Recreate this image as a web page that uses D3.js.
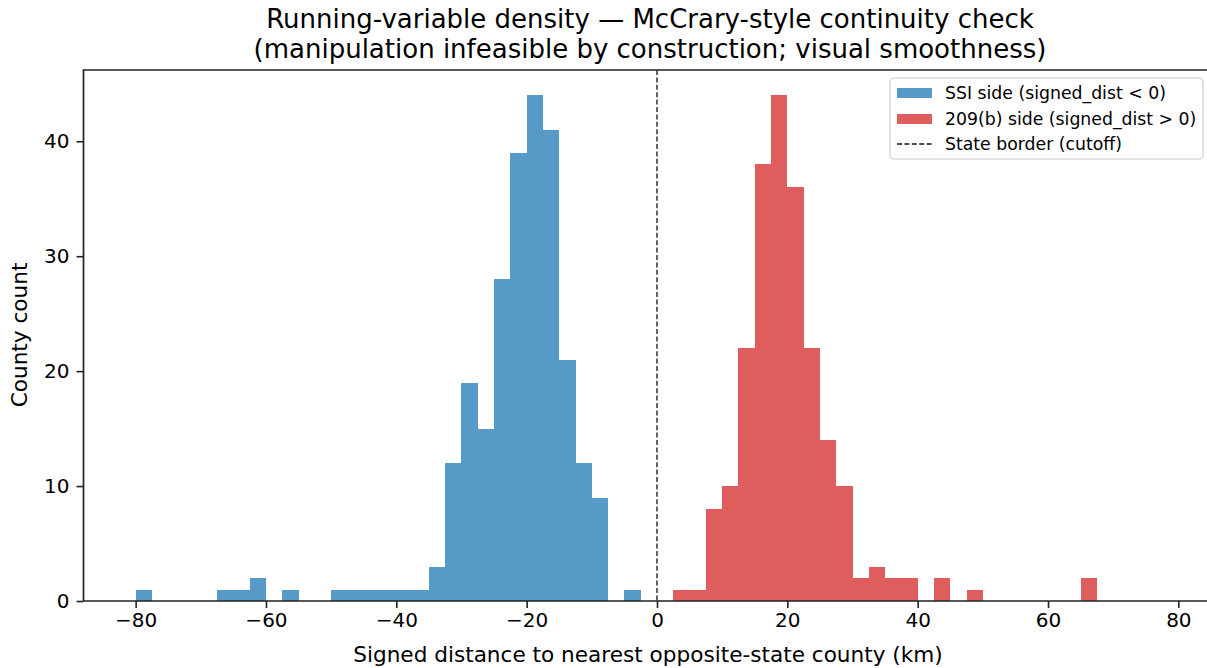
<!DOCTYPE html>
<html>
<head>
<meta charset="utf-8">
<script src="https://cdn.jsdelivr.net/npm/d3@7"></script>
<style>
  body { margin: 0; background: #fff; }
  text { font-family: "DejaVu Sans", sans-serif; fill: #000; }
</style>
</head>
<body>
<div id="target"></div>
<script>
// histogram bins (left edge of each bin, width 2.5 km)
var binWidth = 2.5;
var ssiEdges = [-80, -77.5, -75, -72.5, -70, -67.5, -65, -62.5, -60, -57.5, -55, -52.5,
                -50, -47.5, -45, -42.5, -40, -37.5, -35, -32.5, -30, -27.5, -25, -22.5,
                -20, -17.5, -15, -12.5, -10, -7.5, -5];
var ssiCounts = [1, 0, 0, 0, 0, 1, 1, 2, 0, 1, 0, 0,
                 1, 1, 1, 1, 1, 1, 3, 12, 19, 15, 28, 39,
                 44, 41, 21, 12, 9, 0, 1];
var b209Edges = [2.5, 5, 7.5, 10, 12.5, 15, 17.5, 20, 22.5, 25, 27.5, 30, 32.5,
                 35, 37.5, 40, 42.5, 45, 47.5, 50, 52.5, 55, 57.5, 60, 62.5, 65];
var b209Counts = [1, 1, 8, 10, 22, 38, 44, 36, 22, 14, 10, 2, 3,
                  2, 2, 0, 2, 0, 1, 0, 0, 0, 0, 0, 0, 2];
var xTicks = [-80, -60, -40, -20, 0, 20, 40, 60, 80];
var yTicks = [0, 10, 20, 30, 40];
var legendLabels = ['SSI side (signed_dist < 0)', '209(b) side (signed_dist > 0)', 'State border (cutoff)'];

var W = 1207, H = 668;
var blue = '#5799c7', red = '#e05d5e';

var svg = d3.select('#target').append('svg')
    .attr('width', W)
    .attr('height', H);

var x = d3.scaleLinear().domain([-88, 88]).range([83.5, 1230.5]);
var y = d3.scaleLinear().domain([0, 46.2]).range([601, 70]);

function bars(edges, counts, color) {
  svg.append('g').selectAll('rect')
    .data(edges)
    .join('rect')
    .attr('x', function(d) { return x(d); })
    .attr('width', function(d) { return x(d + binWidth) - x(d); })
    .attr('y', function(d, i) { return y(counts[i]); })
    .attr('height', function(d, i) { return y(0) - y(counts[i]); })
    .attr('fill', color)
    .attr('shape-rendering', 'crispEdges');
}
bars(ssiEdges, ssiCounts, blue);
bars(b209Edges, b209Counts, red);

// cutoff line
svg.append('line')
  .attr('x1', x(0)).attr('x2', x(0))
  .attr('y1', y(46.2)).attr('y2', y(0))
  .attr('stroke', '#111')
  .attr('stroke-width', 1.3)
  .attr('stroke-dasharray', '5,2.4');

// axes
var xAxis = svg.append('g')
  .attr('transform', 'translate(0,' + y(0) + ')')
  .call(d3.axisBottom(x).tickValues(xTicks).tickSize(7).tickPadding(5)
        .tickFormat(function(d) { return d < 0 ? '\u2212' + Math.abs(d) : d; }));
var yAxis = svg.append('g')
  .attr('transform', 'translate(' + x(-88) + ',0)')
  .call(d3.axisLeft(y).tickValues(yTicks).tickSize(7).tickPadding(7));

[xAxis, yAxis].forEach(function(g) {
  g.select('.domain').remove();
  g.selectAll('line').attr('stroke', '#222').attr('stroke-width', 1.6);
  g.selectAll('text').style('font-size', '20px').attr('fill', '#000');
});

// spines (left, top, bottom; right one is outside the picture)
svg.append('path')
  .attr('d', 'M' + x(88) + ',' + y(46.2) + 'H' + x(-88) + 'V' + y(0) + 'H' + x(88))
  .attr('fill', 'none')
  .attr('stroke', '#222')
  .attr('stroke-width', 1.7);

// labels
svg.append('text')
  .attr('x', 650).attr('y', 28)
  .attr('text-anchor', 'middle')
  .style('font-size', '26px')
  .text('Running-variable density \u2014 McCrary-style continuity check');
svg.append('text')
  .attr('x', 650).attr('y', 58)
  .attr('text-anchor', 'middle')
  .style('font-size', '26px')
  .text('(manipulation infeasible by construction; visual smoothness)');

svg.append('text')
  .attr('x', 648).attr('y', 662)
  .attr('text-anchor', 'middle')
  .style('font-size', '21.6px')
  .text('Signed distance to nearest opposite-state county (km)');

svg.append('text')
  .attr('transform', 'translate(27,335) rotate(-90)')
  .attr('text-anchor', 'middle')
  .style('font-size', '21.6px')
  .text('County count');

// legend
var leg = svg.append('g');
leg.append('rect')
  .attr('x', 890).attr('y', 78)
  .attr('width', 313).attr('height', 81)
  .attr('rx', 4)
  .attr('fill', '#fff').attr('fill-opacity', 0.8)
  .attr('stroke', '#ccc').attr('stroke-width', 1.2);

var rowY = [93, 119, 144];
leg.append('rect').attr('x', 897).attr('y', rowY[0] - 5).attr('width', 35).attr('height', 10).attr('fill', blue);
leg.append('rect').attr('x', 897).attr('y', rowY[1] - 5).attr('width', 35).attr('height', 10).attr('fill', red);
leg.append('line')
  .attr('x1', 897).attr('x2', 932)
  .attr('y1', rowY[2]).attr('y2', rowY[2])
  .attr('stroke', '#111').attr('stroke-width', 1.3)
  .attr('stroke-dasharray', '5,2.4');

leg.selectAll('text.lab')
  .data(legendLabels)
  .join('text')
  .attr('class', 'lab')
  .attr('x', 945)
  .attr('y', function(d, i) { return rowY[i]; })
  .attr('dy', '0.36em')
  .style('font-size', '17.3px')
  .text(function(d) { return d; });
</script>
</body>
</html>
